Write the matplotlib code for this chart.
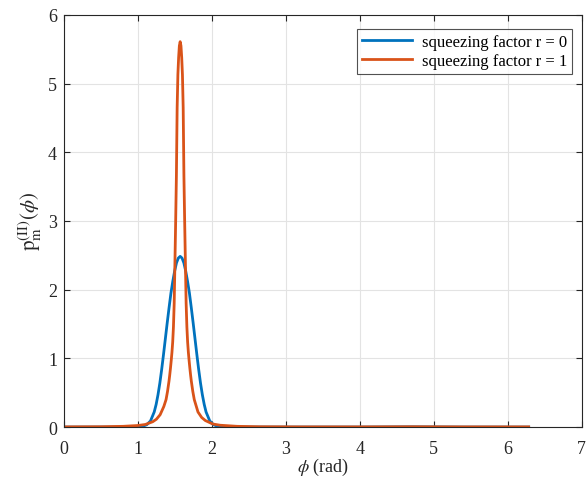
import matplotlib
matplotlib.use("Agg")
import matplotlib.pyplot as plt

plt.rcParams['font.family'] = ['Liberation Serif', 'DejaVu Serif']
plt.rcParams['mathtext.fontset'] = 'stix'

# r = 0 (blue)
phi_r0 = [0.0, 0.5, 0.77, 0.97, 1.07, 1.12, 1.17, 1.22, 1.246, 1.271, 1.296, 1.321,
          1.346, 1.371, 1.396, 1.421, 1.446, 1.471, 1.496, 1.521, 1.546, 1.571,
          1.596, 1.621, 1.646, 1.671, 1.696, 1.721, 1.746, 1.771, 1.796, 1.821,
          1.846, 1.871, 1.896, 1.921, 1.971, 2.021, 2.071, 2.171, 2.371, 3.0,
          4.0, 4.71, 5.4, 6.283]
p_r0 = [0.0005, 0.0008, 0.001, 0.003, 0.013, 0.035, 0.09, 0.22, 0.33, 0.47, 0.64, 0.84,
        1.06, 1.29, 1.52, 1.74, 1.95, 2.12, 2.27, 2.39, 2.46, 2.485,
        2.46, 2.39, 2.27, 2.12, 1.95, 1.74, 1.52, 1.29, 1.06, 0.84,
        0.64, 0.47, 0.33, 0.22, 0.09, 0.035, 0.013, 0.003, 0.001, 0.0006,
        0.0006, 0.004, 0.0006, 0.0005]

# r = 1 (orange)
phi_r1 = [0.0, 0.5, 0.8, 1.0, 1.1, 1.2, 1.25, 1.3, 1.35, 1.38, 1.40, 1.42, 1.43, 1.44,
          1.45, 1.46, 1.47, 1.48, 1.49, 1.50, 1.51, 1.52, 1.53, 1.54, 1.55, 1.56, 1.5708,
          1.5816, 1.5916, 1.6016, 1.6116, 1.6216, 1.6316, 1.6416, 1.6516, 1.6616, 1.6716,
          1.6816, 1.6916, 1.7016, 1.7116, 1.7216, 1.7416, 1.7616, 1.8116, 1.8616, 1.9116,
          2.0116, 2.1116, 2.3416, 2.6416, 3.2, 4.0, 4.71, 5.4, 6.283]
p_r1 = [0.003, 0.005, 0.011, 0.023, 0.038, 0.078, 0.115, 0.18, 0.30, 0.40, 0.52, 0.67, 0.76, 0.86,
        0.97, 1.09, 1.24, 1.46, 1.80, 2.39, 3.0, 3.66, 4.65, 5.13, 5.38, 5.55, 5.61,
        5.55, 5.38, 5.13, 4.65, 3.66, 3.0, 2.39, 1.80, 1.46, 1.24,
        1.09, 0.97, 0.86, 0.76, 0.67, 0.52, 0.40, 0.22, 0.14, 0.095,
        0.045, 0.027, 0.011, 0.005, 0.003, 0.003, 0.005, 0.003, 0.003]

labels = ['squeezing factor r = 0', 'squeezing factor r = 1']
colors = ['#0072BD', '#D95319']

fig = plt.figure(figsize=(5.87, 4.81), dpi=100)
ax = fig.add_axes([0.109, 0.110, 0.882, 0.857])

ax.plot(phi_r0, p_r0, color=colors[0], lw=2.0, label=labels[0])
ax.plot(phi_r1, p_r1, color=colors[1], lw=2.0, label=labels[1])

ax.set_xlim(0, 7)
ax.set_ylim(0, 6)
ax.set_xticks(range(0, 8))
ax.set_yticks(range(0, 7))
ax.grid(True, color='#e3e3e3', lw=0.8)
ax.set_axisbelow(True)
ax.tick_params(direction='in', top=True, right=True, length=4, width=0.8,
               labelsize=13, colors='#262626')
ax.tick_params(axis='x', pad=9.5)
ax.tick_params(axis='y', pad=5)
for s in ax.spines.values():
    s.set_color('#262626')
    s.set_linewidth(0.8)

ax.set_xlabel(r'$\phi$ (rad)', fontsize=13, color='#262626', labelpad=-1)
ax.set_ylabel(r'$\mathrm{p}_\mathrm{m}^{\mathrm{(II)}}(\phi)$', fontsize=15,
              color='#262626', labelpad=3)

leg = ax.legend(loc='upper right', fontsize=12, frameon=True, fancybox=False,
                handlelength=3.0, borderpad=0.3, labelspacing=0.15,
                borderaxespad=0, handletextpad=0.6,
                bbox_to_anchor=(572 / 587, 1 - 30 / 481),
                bbox_transform=fig.transFigure)
leg.get_frame().set_edgecolor('#262626')
leg.get_frame().set_linewidth(0.8)

fig.savefig('out.png', dpi=100)
